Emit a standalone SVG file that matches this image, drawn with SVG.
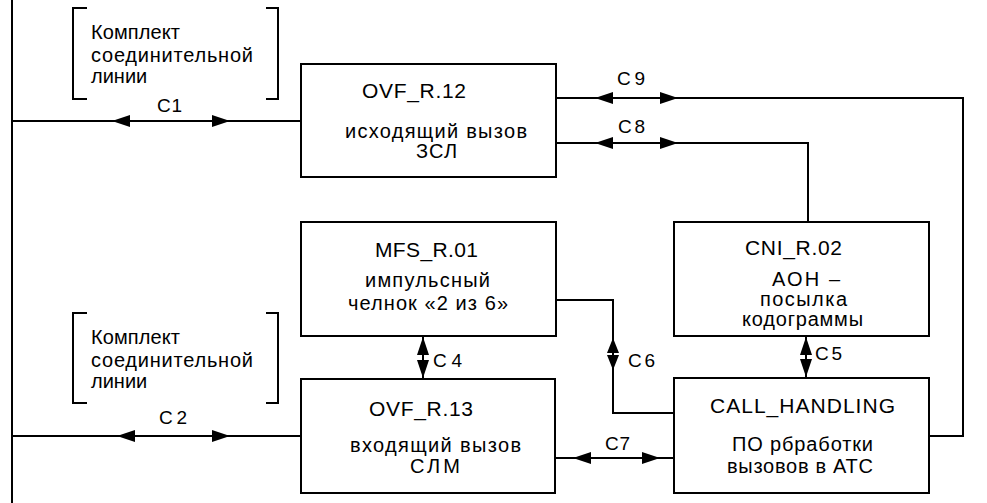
<svg xmlns="http://www.w3.org/2000/svg" xmlns:xlink="http://www.w3.org/1999/xlink" width="987" height="503" viewBox="0 0 987 503">
<style>
text{font-family:"Liberation Sans",Arial,sans-serif;font-size:20px;fill:#000}
.t{font-size:21px}
.lbl{font-size:19px}
.box{fill:#fff;stroke:#000;stroke-width:2}
.ln{fill:none;stroke:#000;stroke-width:2}
.ah{fill:#000}
</style>
<defs>
<path id="ah" d="M0,0 L-18,-6 L-18,6 Z"/>
<path id="ahs" d="M0,0 L-15,-6 L-15,6 Z"/>
</defs>
<rect width="987" height="503" fill="#fff"/>
<g id="connectors">
<path class="ln" d="M12,0 V503"/>
<path class="ln" d="M12,121 H301"/>
<path class="ln" d="M12,436 H301"/>
<path class="ln" d="M556,98 H963 V436 H929"/>
<path class="ln" d="M556,143 H808 V222"/>
<path class="ln" d="M556,300 H613 V413 H674"/>
<path class="ln" d="M423,336 V379"/>
<path class="ln" d="M806,336 V378"/>
<path class="ln" d="M555,458 H674"/>
<g class="ah">
<use xlink:href="#ah" transform="translate(112,121) rotate(180)"/>
<use xlink:href="#ah" transform="translate(230,121)"/>
<use xlink:href="#ah" transform="translate(117,436) rotate(180)"/>
<use xlink:href="#ah" transform="translate(230,436)"/>
<use xlink:href="#ah" transform="translate(595,98) rotate(180)"/>
<use xlink:href="#ah" transform="translate(678,98)"/>
<use xlink:href="#ah" transform="translate(595,143) rotate(180)"/>
<use xlink:href="#ah" transform="translate(678,143)"/>
<use xlink:href="#ah" transform="translate(573,458) rotate(180)"/>
<use xlink:href="#ah" transform="translate(660,458)"/>
<use xlink:href="#ah" transform="translate(423,337) rotate(-90)"/>
<use xlink:href="#ah" transform="translate(423,378) rotate(90)"/>
<use xlink:href="#ahs" transform="translate(613,338) rotate(-90)"/>
<use xlink:href="#ahs" transform="translate(613,370) rotate(90)"/>
<use xlink:href="#ah" transform="translate(806,337) rotate(-90)"/>
<use xlink:href="#ah" transform="translate(806,377) rotate(90)"/>
</g>
<text class="lbl" x="157" y="112" textLength="25">C1</text>
<text class="lbl" x="159" y="424" textLength="28">C2</text>
<text class="lbl" x="617" y="85" textLength="28">C9</text>
<text class="lbl" x="618" y="133" textLength="27">C8</text>
<text class="lbl" x="433" y="367" textLength="29">C4</text>
<text class="lbl" x="628" y="367" textLength="27">C6</text>
<text class="lbl" x="815" y="360" textLength="27">C5</text>
<text class="lbl" x="605" y="450" textLength="25">C7</text>
</g>
<g id="line1">
<path class="ln" d="M87,8 H73 V99 H87 M266,8 H278 V99 H266"/>
<text x="91" y="39" textLength="89">Комплект</text>
<text x="91" y="62" textLength="162">соединительной</text>
<text x="91" y="83">линии</text>
</g>
<g id="line2">
<path class="ln" d="M87,313 H73 V403 H87 M266,313 H278 V403 H266"/>
<text x="91" y="344" textLength="89">Комплект</text>
<text x="91" y="367" textLength="162">соединительной</text>
<text x="91" y="388">линии</text>
</g>
<g id="ovf12">
<rect class="box" x="301" y="64" width="255" height="113"/>
<text class="t" x="362" y="98" textLength="104">OVF_R.12</text>
<text x="345" y="138" textLength="182">исходящий вызов</text>
<text x="416" y="158" textLength="41">ЗСЛ</text>
</g>
<g id="mfs01">
<rect class="box" x="301" y="222" width="255" height="114"/>
<text class="t" x="375" y="257" textLength="103">MFS_R.01</text>
<text x="365" y="287" textLength="125">импульсный</text>
<text x="348" y="310" textLength="160">челнок «2 из 6»</text>
</g>
<g id="ovf13">
<rect class="box" x="301" y="379" width="254" height="114"/>
<text class="t" x="369" y="416" textLength="104">OVF_R.13</text>
<text x="350" y="452" textLength="171">входящий вызов</text>
<text x="410" y="473" textLength="50">СЛМ</text>
</g>
<g id="cni02">
<rect class="box" x="674" y="222" width="255" height="114"/>
<text class="t" x="745" y="255" textLength="97">CNI_R.02</text>
<text x="772" y="286" textLength="68">АОН –</text>
<text x="760" y="306" textLength="87">посылка</text>
<text x="742" y="326" textLength="121">кодограммы</text>
</g>
<g id="callhandling">
<rect class="box" x="674" y="378" width="255" height="115"/>
<text class="t" x="710" y="413" textLength="185">CALL_HANDLING</text>
<text x="732" y="451" textLength="141">ПО рбработки</text>
<text x="727" y="473" textLength="146">вызовов в АТС</text>
</g>
</svg>
